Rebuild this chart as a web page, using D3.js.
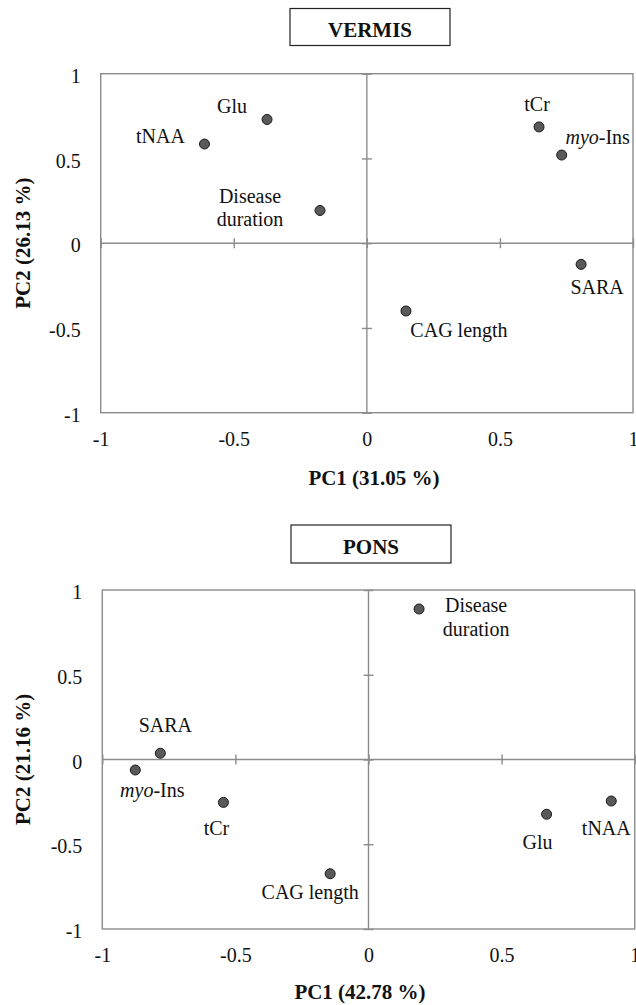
<!DOCTYPE html>
<html>
<head>
<meta charset="utf-8">
<script src="https://cdn.jsdelivr.net/npm/d3@7"></script>
<style>
body { margin: 0; background: #ffffff; }
text { font-family: "Liberation Serif", "Times New Roman", serif; fill: #111111; }
.text_title, .text_axis_title { font-weight: bold; }
</style>
</head>
<body>
<div id="canvas_pca"></div>
<script>
// ----------------------------------------------------------
// DATA -----------------------------------------------------
// ----------------------------------------------------------
var vermis_names = ["tNAA", "Glu", "Disease duration", "tCr", "myo-Ins", "SARA", "CAG length"];
var vermis_pc1 = [-0.61, -0.375, -0.176, 0.647, 0.732, 0.805, 0.147];
var vermis_pc2 = [0.585, 0.73, 0.193, 0.686, 0.52, -0.125, -0.40];

var pons_names = ["Disease duration", "SARA", "myo-Ins", "tCr", "CAG length", "Glu", "tNAA"];
var pons_pc1 = [0.19, -0.782, -0.876, -0.545, -0.144, 0.669, 0.912];
var pons_pc2 = [0.888, 0.037, -0.062, -0.253, -0.674, -0.323, -0.245];

var tick_values = [-1, -0.5, 0, 0.5, 1];
var tick_labels = ["-1", "-0.5", "0", "0.5", "1"];

// ----------------------------------------------------------
// LAYOUT ---------------------------------------------------
// ----------------------------------------------------------
var data_set_pca = {
container_width: 636,
container_height: 1005,
color_bg: "#ffffff",
color_frame: "#8c8c8c",
color_dot: "#595959",
color_dot_stroke: "#1a1a1a",
color_box: "#222222",
font_size: 20,
font_size_title: 21
};

// label offsets (px) from each dot, per chart
var label_offsets_vermis = {
"tNAA": [-44, -8],
"Glu": [-35, -13],
"Disease duration": [-70, -14],
"tCr": [-2, -22],
"myo-Ins": [36, -18],
"SARA": [16, 23],
"CAG length": [53, 19]
};
var label_offsets_pons = {
"Disease duration": [57, -3],
"SARA": [5, -28],
"myo-Ins": [17, 20],
"tCr": [-7, 26],
"CAG length": [-20, 19],
"Glu": [-9, 28],
"tNAA": [-5, 27]
};

var charts_pca = [
{
title: "VERMIS",
names: vermis_names, pc1: vermis_pc1, pc2: vermis_pc2,
offsets: label_offsets_vermis,
x_title: "PC1 (31.05 %)", y_title: "PC2 (26.13 %)",
left: 100.7, right: 633, top: 73.7, bottom: 412.7,
box: [290, 8.5, 160, 37], title_y: 37,
x_title_x: 374, x_title_y: 485,
y_title_x: 30
},
{
title: "PONS",
names: pons_names, pc1: pons_pc1, pc2: pons_pc2,
offsets: label_offsets_pons,
x_title: "PC1 (42.78 %)", y_title: "PC2 (21.16 %)",
left: 102.3, right: 634.7, top: 590, bottom: 929,
box: [291, 525, 160, 38], title_y: 554,
x_title_x: 360, x_title_y: 999,
y_title_x: 30
}
];

// ----------------------------------------------------------
// STRUCTURE ------------------------------------------------
// ----------------------------------------------------------
var container_pca = d3.select("#canvas_pca").append("svg")
.attr("width", data_set_pca.container_width)
.attr("height", data_set_pca.container_height)
.style("display", "block")
.style("background-color", data_set_pca.color_bg);

// ----------------------------------------------------------
// GFX ------------------------------------------------------
// ----------------------------------------------------------
charts_pca.forEach(function(c) {

var g = container_pca.append("g").attr("class", "chart");

var xScale = d3.scaleLinear().domain([-1, 1]).range([c.left, c.right]);
var yScale = d3.scaleLinear().domain([-1, 1]).range([c.bottom, c.top]);

var points = c.names.map(function(n, i) {
return { name: n, x: c.pc1[i], y: c.pc2[i] };
});

// title box
g.append("rect")
.attr("x", c.box[0]).attr("y", c.box[1])
.attr("width", c.box[2]).attr("height", c.box[3])
.style("fill", "none")
.style("stroke", data_set_pca.color_box)
.style("stroke-width", 1.2);
g.append("text")
.attr("class", "text_title")
.attr("x", c.box[0] + c.box[2] / 2)
.attr("y", c.title_y)
.attr("text-anchor", "middle")
.style("font-size", data_set_pca.font_size_title + "px")
.text(c.title);

// plot frame
g.append("rect")
.attr("x", xScale(-1)).attr("y", yScale(1))
.attr("width", xScale(1) - xScale(-1))
.attr("height", yScale(-1) - yScale(1))
.style("fill", "none")
.style("stroke", data_set_pca.color_frame)
.style("stroke-width", 1.4);

// zero lines
g.append("line")
.attr("x1", xScale(-1)).attr("x2", xScale(1))
.attr("y1", yScale(0)).attr("y2", yScale(0))
.style("stroke", data_set_pca.color_frame).style("stroke-width", 1.4);
g.append("line")
.attr("x1", xScale(0)).attr("x2", xScale(0))
.attr("y1", yScale(1)).attr("y2", yScale(-1))
.style("stroke", data_set_pca.color_frame).style("stroke-width", 1.4);

// cross ticks on the zero lines
var xTicks = g.append("g")
.attr("transform", "translate(0," + yScale(0) + ")")
.call(d3.axisBottom(xScale).tickValues(tick_values).tickSize(10).tickFormat(""));
xTicks.select(".domain").remove();
xTicks.selectAll(".tick line").attr("y1", -5).attr("y2", 5)
.style("stroke", data_set_pca.color_frame).style("stroke-width", 1.4);

var yTicks = g.append("g")
.attr("transform", "translate(" + xScale(0) + ",0)")
.call(d3.axisLeft(yScale).tickValues(tick_values).tickSize(10).tickFormat(""));
yTicks.select(".domain").remove();
yTicks.selectAll(".tick line").attr("x1", -5).attr("x2", 5)
.style("stroke", data_set_pca.color_frame).style("stroke-width", 1.4);

// tick labels along the frame
var xAxis = g.append("g")
.attr("transform", "translate(0," + c.bottom + ")")
.call(d3.axisBottom(xScale).tickValues(tick_values).tickSize(0)
.tickFormat(function(d, i) { return tick_labels[i]; }));
xAxis.select(".domain").remove();
xAxis.selectAll("text")
.attr("y", 33).attr("dy", 0)
.style("font-size", data_set_pca.font_size + "px")
.style("font-family", "\"Liberation Serif\", \"Times New Roman\", serif")
.style("fill", "#111111");

var yAxis = g.append("g")
.attr("transform", "translate(" + c.left + ",0)")
.call(d3.axisLeft(yScale).tickValues(tick_values).tickSize(0)
.tickFormat(function(d, i) { return tick_labels[i]; }));
yAxis.select(".domain").remove();
yAxis.selectAll("text")
.attr("x", -20).attr("dy", "0.43em")
.style("font-size", data_set_pca.font_size + "px")
.style("font-family", "\"Liberation Serif\", \"Times New Roman\", serif")
.style("fill", "#111111");

// axis titles
g.append("text")
.attr("class", "text_axis_title")
.attr("x", c.x_title_x).attr("y", c.x_title_y)
.attr("text-anchor", "middle")
.style("font-size", data_set_pca.font_size_title + "px")
.text(c.x_title);
g.append("text")
.attr("class", "text_axis_title")
.attr("transform", "translate(" + c.y_title_x + "," + yScale(0) + ") rotate(-90)")
.attr("text-anchor", "middle")
.style("font-size", data_set_pca.font_size_title + "px")
.text(c.y_title);

// dots
g.selectAll(".dot")
.data(points)
.enter()
.append("circle")
.attr("class", "dot")
.attr("cx", function(d) { return xScale(d.x); })
.attr("cy", function(d) { return yScale(d.y); })
.attr("r", 5)
.style("fill", data_set_pca.color_dot)
.style("stroke", data_set_pca.color_dot_stroke)
.style("stroke-width", 1);

// labels
var labels = g.selectAll(".dot_label")
.data(points)
.enter()
.append("text")
.attr("class", "dot_label")
.attr("text-anchor", "middle")
.style("font-size", data_set_pca.font_size + "px");

labels.each(function(d) {
var t = d3.select(this);
var off = c.offsets[d.name];
var cx = xScale(d.x) + off[0];
var cy = yScale(d.y) + off[1] + 6.5;
if (d.name == "Disease duration") {
t.append("tspan").attr("x", cx).attr("y", cy).text("Disease");
t.append("tspan").attr("x", cx).attr("y", cy + 23.5).text("duration");
} else if (d.name == "myo-Ins") {
t.attr("x", cx).attr("y", cy);
t.append("tspan").style("font-style", "italic").text("myo");
t.append("tspan").text("-Ins");
} else {
t.attr("x", cx).attr("y", cy).text(d.name);
}
});

});
</script>
</body>
</html>
